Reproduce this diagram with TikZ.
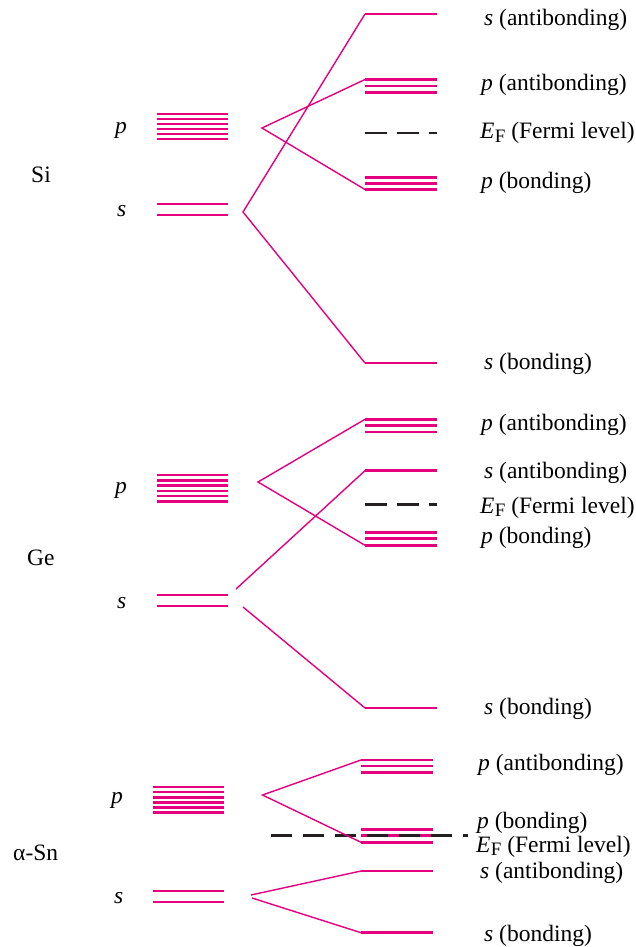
\documentclass[tikz,border=0pt]{standalone}
\usepackage{fontspec}
\setmainfont{Liberation Serif}
\definecolor{lvl}{RGB}{230,0,126}
\definecolor{fermi}{RGB}{35,31,32}
\newcommand{\EF}{{\itshape E}\kern0.3pt\raisebox{-0.3ex}{\fontsize{19}{19}\selectfont F}}
\tikzset{
  lev/.style={draw=lvl, line width=2.5pt},
  conn/.style={draw=lvl, line width=1.4pt, line join=miter},
  ferm/.style={draw=fermi, line width=2.8pt, dash pattern=on 22pt off 10pt},
  lab/.style={anchor=base west, inner sep=0pt, font=\fontsize{23.5}{28}\selectfont},
}
\begin{document}
\begin{tikzpicture}[x=1pt,y=-1pt]
\useasboundingbox (0,0) rectangle (635,947);

% ================= Si =================
\foreach \y in {114,119,124,129,134,139} \draw[lev] (157,\y) -- (228,\y);
\foreach \y in {204,215} \draw[lev] (157,\y) -- (228,\y);
\draw[lev] (365,14) -- (437,14);
\foreach \y in {79.5,86,92.5} \draw[lev] (365,\y) -- (437,\y);
\foreach \y in {177.5,183.5,189.5} \draw[lev] (365,\y) -- (437,\y);
\draw[lev] (365,363) -- (437,363);
\draw[ferm] (365,133) -- (437,133);

\coordinate (siS) at (243,212);
\coordinate (siP) at (262,128);
\coordinate (siSA) at (365,14);
\coordinate (siSB) at (365,363);
\coordinate (siPA) at (365,79.5);
\coordinate (siPB) at (365,189.5);
\draw[conn] (siSA) -- (siS) -- (siSB);
\draw[conn] (siPA) -- (siP) -- (siPB);

\node[lab] (siname) at (31,182) {Si};
\node[lab] (sip) at (115,133) {\itshape p};
\node[lab] (sis) at (117,216) {\itshape s};
\node[lab] (siL1) at (484,26) {{\itshape s} (antibonding)};
\node[lab] (siL2) at (481,91) {{\itshape p} (antibonding)};
\node[lab] (siL3) at (480,139) {\EF\ (Fermi level)};
\node[lab] (siL4) at (481,188) {{\itshape p} (bonding)};
\node[lab] (siL5) at (484,369) {{\itshape s} (bonding)};

% ================= Ge =================
\foreach \y in {475,480.3,485.5,490.8,496,501.3} \draw[lev] (157,\y) -- (228,\y);
\foreach \y in {595,606} \draw[lev] (157,\y) -- (228,\y);
\foreach \y in {419.3,425.5,432} \draw[lev] (365,\y) -- (437,\y);
\draw[lev] (365,470.7) -- (437,470.7);
\foreach \y in {532.7,538.7,545.3} \draw[lev] (365,\y) -- (437,\y);
\draw[lev] (365,708) -- (437,708);
\draw[ferm] (365,504.3) -- (437,504.3);

\coordinate (geP) at (258,482);
\coordinate (gePA) at (365,419.3);
\coordinate (gePB) at (365,545.3);
\coordinate (geS1) at (236,589);
\coordinate (geSA) at (365,470.7);
\coordinate (geS2) at (243,607);
\coordinate (geSB) at (365,708);
\draw[conn] (gePA) -- (geP) -- (gePB);
\draw[conn] (geS1) -- (geSA);
\draw[conn] (geS2) -- (geSB);

\node[lab] (gename) at (27,565) {Ge};
\node[lab] (gep) at (115,493.5) {\itshape p};
\node[lab] (ges) at (117,608) {\itshape s};
\node[lab] (geL1) at (481,430) {{\itshape p} (antibonding)};
\node[lab] (geL2) at (484,478) {{\itshape s} (antibonding)};
\node[lab] (geL3) at (480,513) {\EF\ (Fermi level)};
\node[lab] (geL4) at (481,543) {{\itshape p} (bonding)};
\node[lab] (geL5) at (484,714) {{\itshape s} (bonding)};

% ================= alpha-Sn =================
\foreach \y in {787,792,797.3,802.5,807.7,812.7} \draw[lev] (153,\y) -- (224,\y);
\foreach \y in {891,902} \draw[lev] (153,\y) -- (224,\y);
\foreach \y in {760,766.2,772.7} \draw[lev] (361,\y) -- (433,\y);
\foreach \y in {829.3,835.7,842.3} \draw[lev] (361,\y) -- (433,\y);
\draw[lev] (361,871) -- (433,871);
\draw[lev] (361,932.7) -- (433,932.7);
\draw[ferm, dash pattern=on 21pt off 11pt] (271,835.7) -- (468,835.7);

\coordinate (snP) at (262.5,795);
\coordinate (snPA) at (361,760);
\coordinate (snPB) at (361,842.3);
\coordinate (snS1) at (251,895);
\coordinate (snS2) at (252,898);
\coordinate (snSA) at (361,871);
\coordinate (snSB) at (361,932.7);
\draw[conn] (snPA) -- (snP) -- (snPB);
\draw[conn] (snS1) -- (snSA);
\draw[conn] (snS2) -- (snSB);

\node[lab] (snname) at (13,860) {α-Sn};
\node[lab] (snp) at (111,803) {\itshape p};
\node[lab] (sns) at (114,903) {\itshape s};
\node[lab] (snL1) at (478,770) {{\itshape p} (antibonding)};
\node[lab] (snL2) at (477,828) {{\itshape p} (bonding)};
\node[lab] (snL3) at (476,852) {\EF\ (Fermi level)};
\node[lab] (snL4) at (480,878) {{\itshape s} (antibonding)};
\node[lab] (snL5) at (484,941) {{\itshape s} (bonding)};
\end{tikzpicture}
\end{document}
